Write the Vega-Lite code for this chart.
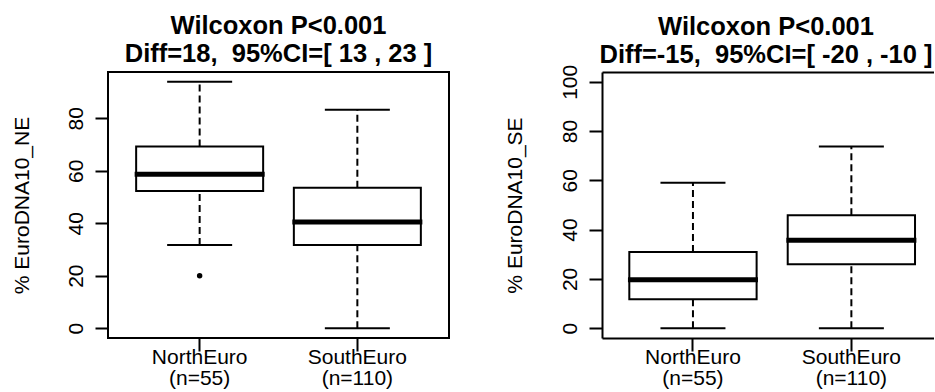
{
  "$schema": "https://vega.github.io/schema/vega-lite/v6.json",
  "background": "white",
  "padding": {"left": 9, "top": 12, "right": 0, "bottom": 0},
  "datasets": {
    "ne": [
      {"group": "NorthEuro (n=55)", "lower": 31.7, "q1": 52.3, "median": 58.65, "q3": 69.3, "upper": 93.96},
      {"group": "SouthEuro (n=110)", "lower": 0, "q1": 31.7, "median": 40.5, "q3": 53.5, "upper": 83.3}
    ],
    "ne_out": [
      {"group": "NorthEuro (n=55)", "value": 20.0}
    ],
    "se": [
      {"group": "NorthEuro (n=55)", "lower": 0, "q1": 11.7, "median": 19.7, "q3": 30.9, "upper": 59.05},
      {"group": "SouthEuro (n=110)", "lower": 0, "q1": 25.9, "median": 35.7, "q3": 45.8, "upper": 73.8}
    ]
  },
  "spacing": 153,
  "bounds": "flush",
  "hconcat": [
    {
      "width": 341,
      "height": 266,
      "title": {"text": ["Wilcoxon P<0.001", "Diff=18,\u00a0 95%CI=[ 13 , 23 ]"], "offset": 5},
      "data": {"name": "ne"},
      "encoding": {
        "x": {"field": "group", "type": "nominal", "sort": null,
              "scale": {"paddingInner": 0.1947, "paddingOuter": 0.1785, "align": 0.5},
              "axis": {"domain": false, "labelExpr": "split(datum.label, ' ')"}}
      },
      "layer": [
        {"mark": {"type": "rule", "strokeDash": [7, 4], "strokeWidth": 2, "color": "black"},
         "encoding": {"y": {"field": "q3", "type": "quantitative",
                            "scale": {"domain": [-3.76, 97.66], "nice": false, "zero": false},
                            "axis": {"values": [0, 20, 40, 60, 80], "domain": false, "title": "% EuroDNA10_NE", "titleX": -80}},
                      "y2": {"field": "upper"}}},
        {"mark": {"type": "rule", "strokeDash": [7, 4], "strokeWidth": 2, "color": "black"},
         "encoding": {"y": {"field": "lower", "type": "quantitative"}, "y2": {"field": "q1"}}},
        {"mark": {"type": "bar", "fill": "white", "stroke": "black", "strokeWidth": 2},
         "encoding": {"y": {"field": "q1", "type": "quantitative"}, "y2": {"field": "q3"}}},
        {"mark": {"type": "tick", "orient": "horizontal", "size": 130, "thickness": 5, "color": "black", "opacity": 1},
         "encoding": {"y": {"field": "median", "type": "quantitative"}}},
        {"mark": {"type": "tick", "orient": "horizontal", "size": 65, "thickness": 2, "color": "black", "opacity": 1},
         "encoding": {"y": {"field": "upper", "type": "quantitative"}}},
        {"mark": {"type": "tick", "orient": "horizontal", "size": 65, "thickness": 2, "color": "black", "opacity": 1},
         "encoding": {"y": {"field": "lower", "type": "quantitative"}}},
        {"data": {"name": "ne_out"},
         "mark": {"type": "point", "filled": true, "size": 30, "color": "black", "opacity": 1},
         "encoding": {"y": {"field": "value", "type": "quantitative"}}}
      ]
    },
    {
      "width": 332,
      "height": 266,
      "view": {"stroke": null},
      "title": {"text": ["Wilcoxon P<0.001", "Diff=-15,\u00a0 95%CI=[ -20 , -10 ]"], "offset": -4, "dx": -2},
      "data": {"name": "se"},
      "encoding": {
        "x": {"field": "group", "type": "nominal", "sort": null,
              "scale": {"paddingInner": 0.1963, "paddingOuter": 0.1461, "align": 0.59},
              "axis": null}
      },
      "resolve": {"axis": {"x": "independent"}},
      "layer": [
        {"mark": {"type": "rule", "strokeDash": [7, 4], "strokeWidth": 2, "color": "black"},
         "encoding": {"y": {"field": "q3", "type": "quantitative",
                            "scale": {"domain": [-4, 104], "nice": false, "zero": false},
                            "axis": {"values": [0, 20, 40, 60, 80, 100], "domain": true, "title": "% EuroDNA10_SE", "titleX": -81}},
                      "y2": {"field": "upper"}}},
        {"mark": {"type": "rule", "strokeDash": [7, 4], "strokeWidth": 2, "color": "black"},
         "encoding": {"y": {"field": "lower", "type": "quantitative"}, "y2": {"field": "q1"}}},
        {"mark": {"type": "bar", "fill": "white", "stroke": "black", "strokeWidth": 2},
         "encoding": {"x": {"field": "group", "type": "nominal", "sort": null,
                            "axis": {"domain": true, "labelExpr": "split(datum.label, ' ')"}},
                      "y": {"field": "q1", "type": "quantitative"}, "y2": {"field": "q3"}}},
        {"mark": {"type": "tick", "orient": "horizontal", "size": 130, "thickness": 5, "color": "black", "opacity": 1},
         "encoding": {"y": {"field": "median", "type": "quantitative"}}},
        {"mark": {"type": "tick", "orient": "horizontal", "size": 65, "thickness": 2, "color": "black", "opacity": 1},
         "encoding": {"y": {"field": "upper", "type": "quantitative"}}},
        {"mark": {"type": "tick", "orient": "horizontal", "size": 65, "thickness": 2, "color": "black", "opacity": 1},
         "encoding": {"y": {"field": "lower", "type": "quantitative"}}},
        {"mark": {"type": "point", "opacity": 0},
         "encoding": {"x": {"field": "group", "type": "nominal", "sort": null,
                            "axis": {"orient": "top", "labels": false, "ticks": false, "domain": true, "title": null}},
                      "y": {"field": "median", "type": "quantitative"}}}
      ]
    }
  ],
  "config": {
    "font": "Liberation Sans",
    "view": {"stroke": "black", "strokeWidth": 2},
    "axis": {"grid": false, "labelFont": "Liberation Sans", "labelFontSize": 21, "labelColor": "black",
             "tickColor": "black", "tickWidth": 2, "domainColor": "black", "domainWidth": 2,
             "titleFont": "Liberation Sans", "titleFontSize": 21, "titleFontWeight": "normal", "titleColor": "black",
             "labelOverlap": false, "labelFlush": false},
    "axisX": {"tickSize": 13, "labelPadding": -5, "labelAngle": 0, "labelBaseline": "top", "labelLineHeight": 21, "title": null},
    "axisY": {"tickSize": 13, "labelPadding": 13, "labelAngle": -90, "labelAlign": "center", "labelBaseline": "alphabetic",
              "titleAngle": -90, "titleBaseline": "alphabetic", "titleAlign": "center", "titleY": 133},
    "title": {"font": "Liberation Sans", "fontSize": 25.5, "fontWeight": "bold", "color": "black",
              "lineHeight": 28, "baseline": "alphabetic", "anchor": "middle"}
  }
}
